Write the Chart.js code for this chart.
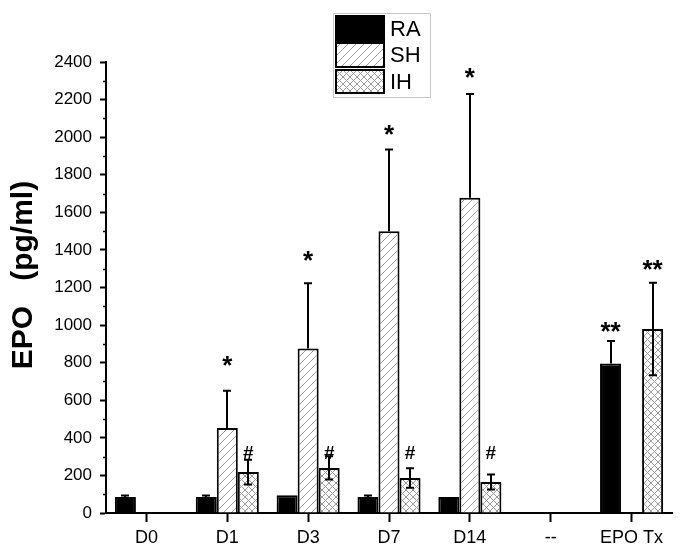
<!DOCTYPE html>
<html lang="en">
<head>
    <meta charset="UTF-8">
    <title>EPO</title>
    <script src="https://cdn.jsdelivr.net/npm/chart.js"></script>
    <style>
        * { margin: 0; padding: 0; box-sizing: border-box; }
        body { background: white; width: 685px; height: 546px; overflow: hidden; }
        canvas { display: block; }
    </style>
</head>
<body>
    <canvas id="epoChart" width="685" height="546"></canvas>

    <script>
        // categories and values
        const days = ["D0", "D1", "D3", "D7", "D14", "--", "EPO Tx"];
        const seriesNames = ["RA", "SH", "IH"];

        const raValues = [85, 85, 95, 85, 85, null, 795];
        const shValues = [null, 452, 875, 1500, 1678, null, null];
        const ihValues = [null, 218, 240, 186, 165, null, 979];

        const raErr = [8, 8, 0, 8, 0, null, 120];
        const shErr = [null, 198, 348, 435, 552, null, null];
        const ihErr = [null, 66, 62, 52, 40, null, 246];

        const yTicks = [0, 200, 400, 600, 800, 1000, 1200, 1400, 1600, 1800, 2000, 2200, 2400];

        // significance marks: [series, category, text, level]
        const marks = [
            [1, 1, "*", 810], [1, 2, "*", 1365], [1, 3, "*", 2040], [1, 4, "*", 2340],
            [2, 1, "#", 320], [2, 2, "#", 320], [2, 3, "#", 320], [2, 4, "#", 320],
            [0, 6, "**", 990], [2, 6, "**", 1320]
        ];

        Chart.defaults.font.family = "'Liberation Sans', Arial, sans-serif";
        Chart.defaults.color = "#000";

        function hatch(size, both) {
            const c = document.createElement("canvas");
            c.width = size; c.height = size;
            const g = c.getContext("2d");
            g.fillStyle = "#fff";
            g.fillRect(0, 0, size, size);
            g.strokeStyle = "#9a9a9a";
            g.lineWidth = 1;
            g.beginPath();
            g.moveTo(-1, size + 1); g.lineTo(size + 1, -1);
            if (both) {
                g.moveTo(-1, -1); g.lineTo(size + 1, size + 1);
            }
            g.stroke();
            return g.createPattern(c, "repeat");
        }

        const shFill = hatch(8, false);
        const ihFill = hatch(7, true);
        const fills = ["#000", shFill, ihFill];
        const errs = [raErr, shErr, ihErr];
        const bothWays = [false, false, true];

        const extras = {
            id: "extras",
            afterDatasetsDraw(chart) {
                const ctx = chart.ctx;
                const y = chart.scales.y;
                ctx.save();

                // minor ticks
                ctx.strokeStyle = "#000";
                ctx.lineWidth = 1.5;
                const ax = chart.chartArea.left;
                for (let v = 100; v < 2400; v += 200) {
                    const py = Math.round(y.getPixelForValue(v)) + 0.5;
                    ctx.beginPath();
                    ctx.moveTo(ax - 3, py); ctx.lineTo(ax, py);
                    ctx.stroke();
                }

                // error bars
                ctx.lineWidth = 2;
                chart.data.datasets.forEach((ds, i) => {
                    const meta = chart.getDatasetMeta(i);
                    meta.data.forEach((bar, j) => {
                        const v = ds.data[j], e = errs[i][j];
                        if (v == null || !e) return;
                        const x = Math.round(bar.x);
                        const top = y.getPixelForValue(v + e);
                        const bot = bothWays[i] ? y.getPixelForValue(v - e) : y.getPixelForValue(v);
                        ctx.beginPath();
                        ctx.moveTo(x, bot); ctx.lineTo(x, top);
                        ctx.moveTo(x - 4, top); ctx.lineTo(x + 4, top);
                        if (bothWays[i]) { ctx.moveTo(x - 4, bot); ctx.lineTo(x + 4, bot); }
                        ctx.stroke();
                    });
                });

                // significance marks
                ctx.fillStyle = "#000";
                ctx.textAlign = "center";
                ctx.textBaseline = "alphabetic";
                marks.forEach(([s, c, t, lvl]) => {
                    const bar = chart.getDatasetMeta(s).data[c];
                    ctx.font = t === "#" ? "bold 19px 'Liberation Sans', Arial" : "bold 26px 'Liberation Sans', Arial";
                    const m = ctx.measureText(t);
                    const py = y.getPixelForValue(lvl);
                    const off = (m.actualBoundingBoxAscent - m.actualBoundingBoxDescent) / 2;
                    ctx.fillText(t, bar.x, py + off);
                });

                // y title
                ctx.save();
                ctx.translate(24, 275);
                ctx.rotate(-Math.PI / 2);
                ctx.font = "bold 30px 'Liberation Sans', Arial";
                ctx.textBaseline = "middle";
                ctx.fillText("EPO   (pg/ml)", 0, 0);
                ctx.restore();

                // legend
                ctx.strokeStyle = "#c8c8c8";
                ctx.lineWidth = 1;
                ctx.strokeRect(333.5, 13.5, 97, 84);
                const rows = [[15, 27], [42, 26], [69, 25]];
                ctx.font = "22px 'Liberation Sans', Arial";
                ctx.textAlign = "left";
                ctx.textBaseline = "middle";
                seriesNames.forEach((n, i) => {
                    const [ry, rh] = rows[i];
                    ctx.fillStyle = fills[i];
                    ctx.fillRect(335, ry, 50, rh);
                    ctx.strokeStyle = "#000";
                    ctx.lineWidth = 2;
                    ctx.strokeRect(336, ry + 1, 48, rh - 2);
                    ctx.fillStyle = "#000";
                    ctx.fillText(n, 390, ry + rh / 2 + 1);
                });

                ctx.restore();
            }
        };

        new Chart(document.getElementById("epoChart"), {
            type: "bar",
            data: {
                labels: days,
                datasets: seriesNames.map((n, i) => ({
                    label: n,
                    data: [raValues, shValues, ihValues][i],
                    backgroundColor: fills[i],
                    borderColor: "#000",
                    borderWidth: 2,
                    borderSkipped: "bottom"
                }))
            },
            options: {
                responsive: false,
                animation: false,
                events: [],
                categoryPercentage: 0.78,
                barPercentage: 1.0,
                layout: { padding: { top: 62, right: 13, left: 0, bottom: 0 } },
                plugins: { legend: { display: false }, tooltip: { enabled: false } },
                scales: {
                    x: {
                        grid: { drawOnChartArea: false, offset: false, tickLength: 9, tickWidth: 2, tickColor: "#000" },
                        border: { color: "#000", width: 2 },
                        ticks: { font: { size: 18 }, padding: 5, maxRotation: 0 },
                        afterFit: s => { s.height = 33; }
                    },
                    y: {
                        min: 0,
                        max: 2400,
                        afterBuildTicks: s => { s.ticks = yTicks.map(v => ({ value: v })); },
                        grid: { drawOnChartArea: false, tickLength: 6, tickWidth: 2, tickColor: "#000" },
                        border: { color: "#000", width: 2 },
                        ticks: { font: { size: 17 }, padding: 8, callback: v => String(v) },
                        afterFit: s => { s.width = 106; }
                    }
                }
            },
            plugins: [extras]
        });
    </script>
</body>
</html>
